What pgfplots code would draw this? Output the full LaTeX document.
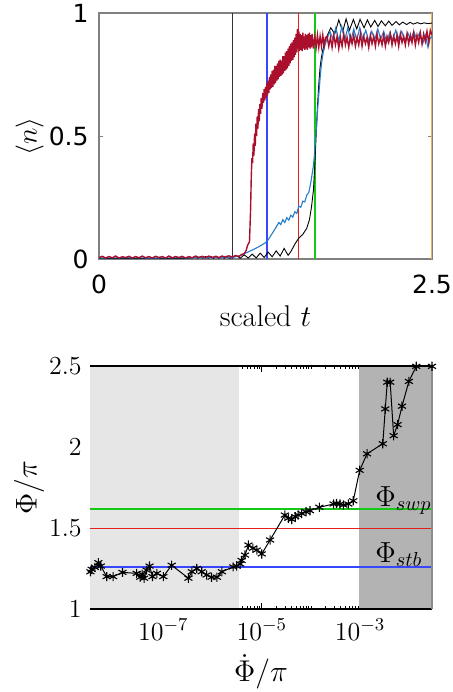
\RequirePackage{fix-cm}
\documentclass[border=0pt]{standalone}
\usepackage{fontspec}
\newfontfamily\dejavu{DejaVu Sans}
\usepackage{pgfplots}
\pgfplotsset{compat=1.18}
\definecolor{lgray}{RGB}{230,230,230}
\definecolor{dgray}{RGB}{179,179,179}
\definecolor{mred}{RGB}{170,15,45}
\definecolor{mblue}{RGB}{35,125,200}
\definecolor{lineblue}{RGB}{55,70,255}
\definecolor{vred}{RGB}{230,30,30}
\definecolor{vgreen}{RGB}{20,200,20}
\definecolor{vorange}{RGB}{240,175,80}
\begin{document}
\begin{tikzpicture}
\useasboundingbox (0,0) rectangle (226pt,346pt);
% ---------------- top panel ----------------
\begin{axis}[
  at={(49.5pt,216.5pt)}, anchor=south west, scale only axis,
  width=166.5pt, height=123pt,
  xmin=0, xmax=2.5, ymin=0, ymax=1,
  xtick={0,2.5}, xticklabels={0,2.5},
  ytick={0,0.5,1}, yticklabels={0,0.5,1},
  tick align=inside, major tick length=2pt,
  axis line style={black!50, line width=0.7pt},
  tick style={black!50},
  xticklabel style={font=\dejavu\fontsize{12.5}{14}\selectfont, anchor=base, yshift=-17pt, inner sep=0pt},
  yticklabel style={font=\dejavu\fontsize{12.5}{14}\selectfont, anchor=east, xshift=-5pt, inner sep=0pt},
  xlabel={scaled $t$},
  xlabel style={font=\fontsize{15}{18}\selectfont, at={(axis description cs:0.5,-0.276)}, anchor=base, inner sep=0pt},
  ylabel={$\langle n\rangle$},
  ylabel style={font=\fontsize{14}{17}\selectfont, at={(axis description cs:-0.187,0.497)}, anchor=base, inner sep=0pt},
]
\addplot[black!80, line width=0.55pt] coordinates {(1,0) (1,1)};
\addplot[lineblue, line width=0.9pt] coordinates {(1.264,0) (1.264,1)};
\addplot[vred, line width=0.6pt] coordinates {(1.50,0) (1.50,1)};
\addplot[vgreen, line width=0.8pt] coordinates {(1.62,0) (1.62,1)};
\addplot[vorange, line width=0.9pt] coordinates {(2.5,0) (2.5,1)};
% black curve
\addplot[black, line width=0.45pt] coordinates {
(0,0.002)(0.6,0.002)(0.7,0.004)(0.72,0.008)(0.74,0.003)(0.76,0.009)(0.78,0.003)(0.80,0.010)(0.82,0.003)(0.84,0.010)(0.86,0.003)(0.88,0.011)(0.90,0.003)(0.92,0.011)(0.94,0.003)(0.96,0.012)(0.98,0.003)(1.0,0.006)
(1.03,0.014)(1.06,0.003)(1.09,0.017)(1.12,0.004)(1.15,0.020)(1.18,0.004)(1.21,0.024)(1.24,0.006)(1.27,0.028)(1.30,0.009)(1.33,0.033)(1.36,0.012)(1.39,0.043)(1.42,0.015)(1.44,0.030)(1.47,0.060)(1.50,0.085)(1.53,0.100)(1.56,0.125)(1.58,0.160)(1.595,0.21)(1.61,0.28)(1.62,0.38)(1.63,0.50)(1.64,0.62)(1.65,0.71)(1.66,0.78)(1.67,0.82)(1.68,0.85)(1.69,0.87)(1.70,0.89)(1.715,0.91)
(1.74,0.94)(1.77,0.915)(1.80,0.972)(1.83,0.925)(1.855,0.976)(1.88,0.930)(1.91,0.974)(1.935,0.935)(1.96,0.974)(1.99,0.940)(2.015,0.972)(2.04,0.943)(2.07,0.970)(2.095,0.945)(2.12,0.968)(2.15,0.948)(2.175,0.967)(2.20,0.950)(2.23,0.965)(2.255,0.952)(2.28,0.963)(2.31,0.953)(2.335,0.962)(2.36,0.955)(2.39,0.961)(2.415,0.956)(2.44,0.960)(2.47,0.957)(2.5,0.959)};
% blue curve
\addplot[mblue, line width=0.55pt] coordinates {
(0,0.004)(0.2,0.005)(0.4,0.004)(0.6,0.005)(0.8,0.005)(0.95,0.006)(1.0,0.006)(1.05,0.012)(1.10,0.024)(1.15,0.036)(1.20,0.050)(1.25,0.066)(1.27,0.078)(1.29,0.095)(1.31,0.112)(1.33,0.130)(1.35,0.148)(1.365,0.140)(1.38,0.160)(1.395,0.148)(1.41,0.168)(1.425,0.158)(1.44,0.178)(1.455,0.170)(1.47,0.192)(1.485,0.185)(1.50,0.215)(1.515,0.210)(1.53,0.235)(1.545,0.232)(1.56,0.260)(1.575,0.270)(1.59,0.310)(1.60,0.345)(1.61,0.380)(1.617,0.420)(1.625,0.480)(1.634,0.545)(1.643,0.620)(1.652,0.680)(1.662,0.750)(1.672,0.800)(1.685,0.845)(1.697,0.870)(1.715,0.900)(1.734,0.925)
(1.755,0.895)(1.778,0.940)(1.80,0.885)(1.823,0.945)(1.845,0.890)(1.868,0.940)(1.89,0.885)(1.913,0.935)(1.935,0.890)(1.958,0.940)(1.98,0.895)(2.003,0.930)(2.025,0.885)(2.048,0.925)(2.07,0.890)(2.093,0.935)(2.115,0.895)(2.138,0.925)(2.16,0.880)(2.183,0.920)(2.205,0.890)(2.228,0.930)(2.25,0.895)(2.273,0.925)(2.295,0.885)(2.318,0.920)(2.34,0.890)(2.363,0.925)(2.385,0.895)(2.408,0.920)(2.43,0.875)(2.45,0.910)(2.47,0.860)(2.485,0.895)(2.5,0.905)};
% red curve
\addplot[mred, line width=0.7pt] coordinates {
(0,0.006)(0.025,0.011)(0.05,0.004)(0.075,0.010)(0.1,0.005)(0.125,0.012)(0.15,0.004)(0.175,0.009)(0.2,0.006)(0.225,0.011)(0.25,0.004)(0.275,0.010)(0.3,0.005)(0.325,0.012)(0.35,0.005)(0.375,0.010)(0.4,0.004)(0.425,0.011)(0.45,0.006)(0.475,0.010)(0.5,0.004)(0.525,0.012)(0.55,0.005)(0.575,0.010)(0.6,0.006)(0.625,0.011)(0.65,0.004)(0.675,0.010)(0.7,0.005)(0.725,0.012)(0.75,0.006)(0.775,0.011)(0.8,0.005)(0.825,0.012)(0.85,0.006)(0.875,0.011)(0.9,0.006)(0.925,0.012)(0.95,0.007)(0.975,0.013)(1.0,0.008)
(1.025,0.014)(1.05,0.010)(1.07,0.018)(1.09,0.022)(1.105,0.035)(1.115,0.055)(1.13,0.07)(1.138,0.20)(1.143,0.33)(1.148,0.41)(1.153,0.39)(1.158,0.47)(1.163,0.42)(1.168,0.51)(1.173,0.46)(1.178,0.55)(1.183,0.50)(1.188,0.58)(1.193,0.53)(1.198,0.61)(1.203,0.56)(1.208,0.63)(1.213,0.59)(1.218,0.655)(1.223,0.61)(1.23,0.675)(1.235,0.635)(1.24,0.69)(1.245,0.645)(1.25,0.70)(1.255,0.655)(1.26,0.715)(1.265,0.665)(1.27,0.725)(1.275,0.675)(1.28,0.74)(1.285,0.69)(1.29,0.75)(1.295,0.695)(1.30,0.765)(1.305,0.70)(1.31,0.77)(1.315,0.71)(1.32,0.785)(1.325,0.715)(1.33,0.785)(1.335,0.725)(1.34,0.795)(1.345,0.73)(1.35,0.805)(1.355,0.74)(1.36,0.81)(1.365,0.745)(1.37,0.805)(1.375,0.75)(1.38,0.825)(1.385,0.755)(1.39,0.825)(1.395,0.765)(1.40,0.84)(1.405,0.77)(1.41,0.845)(1.415,0.775)(1.42,0.855)(1.425,0.785)(1.43,0.865)(1.435,0.795)(1.44,0.875)(1.445,0.805)(1.45,0.88)(1.455,0.81)(1.46,0.89)(1.465,0.82)(1.47,0.90)(1.475,0.83)(1.48,0.915)(1.485,0.84)(1.49,0.935)(1.495,0.855)(1.50,0.925)(1.505,0.845)(1.51,0.915)(1.515,0.85)(1.52,0.91)(1.525,0.845)(1.53,0.92)(1.535,0.855)(1.54,0.905)(1.545,0.85)(1.55,0.915)(1.555,0.855)(1.56,0.91)(1.565,0.85)(1.57,0.915)(1.575,0.86)(1.58,0.92)(1.585,0.855)(1.59,0.91)(1.595,0.86)(1.60,0.915)(1.61,0.855)(1.62,0.905)(1.63,0.86)(1.64,0.91)(1.65,0.86)(1.66,0.905)(1.67,0.865)(1.68,0.91)(1.69,0.865)(1.70,0.90)
(1.7125,0.905)(1.725,0.865)(1.7375,0.90)(1.75,0.86)(1.7625,0.91)(1.775,0.87)(1.7875,0.905)(1.80,0.855)(1.8125,0.90)(1.825,0.865)(1.8375,0.915)(1.85,0.87)(1.8625,0.90)(1.875,0.86)(1.8875,0.905)(1.90,0.875)(1.9125,0.91)(1.925,0.865)(1.9375,0.90)(1.95,0.87)(1.9625,0.915)(1.975,0.865)(1.9875,0.905)(2.00,0.875)(2.0125,0.90)(2.025,0.86)(2.0375,0.91)(2.05,0.875)(2.0625,0.905)(2.075,0.865)(2.0875,0.915)(2.10,0.875)(2.1125,0.90)(2.125,0.87)(2.1375,0.91)(2.15,0.865)(2.1625,0.905)(2.175,0.88)(2.1875,0.915)(2.20,0.87)(2.2125,0.905)(2.225,0.875)(2.2375,0.91)(2.25,0.865)(2.2625,0.915)(2.275,0.88)(2.2875,0.905)(2.30,0.87)(2.3125,0.915)(2.325,0.875)(2.3375,0.91)(2.35,0.88)(2.3625,0.92)(2.375,0.87)(2.3875,0.91)(2.40,0.88)(2.4125,0.92)(2.425,0.875)(2.4375,0.915)(2.45,0.885)(2.4625,0.925)(2.475,0.88)(2.4875,0.93)(2.50,0.91)};
\end{axis}
% ---------------- bottom panel ----------------
\begin{axis}[
  at={(45pt,41.5pt)}, anchor=south west, scale only axis,
  width=171pt, height=121.5pt,
  xmode=log, xmin=3.24e-9, xmax=2.88e-2, ymin=1, ymax=2.5,
  xtick={1e-7,1e-5,1e-3},
  minor xtick={4e-6,5e-6,6e-6,7e-6,8e-6,9e-6,2e-5,3e-5,4e-5,5e-5,6e-5,7e-5,8e-5,9e-5,1e-4,2e-4,3e-4,4e-4,5e-4,6e-4,7e-4,8e-4,9e-4},
  ytick={1,1.5,2,2.5},
  tick align=inside, major tick length=3pt, minor tick length=1.6pt,
  axis line style={draw=none}, tick style={black, line width=0.4pt},
  clip=false,
  xticklabel style={font=\fontsize{13}{15}\selectfont, anchor=base, yshift=-15.5pt, inner sep=0pt},
  yticklabel style={font=\fontsize{13}{15}\selectfont, anchor=east, xshift=-4pt, inner sep=0pt},
  xlabel={$\dot{\Phi}/\pi$},
  xlabel style={font=\fontsize{15}{18}\selectfont, at={(axis description cs:0.5,-0.30)}, anchor=base, inner sep=0pt},
  ylabel={$\Phi/\pi$},
  ylabel style={font=\fontsize{15}{18}\selectfont, at={(axis description cs:-0.156,0.5)}, anchor=base, inner sep=0pt},
]
\addplot[draw=none, fill=lgray] coordinates {(3.24e-9,1) (3.39e-6,1) (3.39e-6,2.5) (3.24e-9,2.5)} -- cycle;
\addplot[draw=none, fill=dgray] coordinates {(9.6e-4,1) (2.88e-2,1) (2.88e-2,2.5) (9.6e-4,2.5)} -- cycle;
\addplot[vgreen, line width=0.65pt] coordinates {(3.24e-9,1.617) (2.88e-2,1.617)};
\addplot[vred, line width=0.6pt] coordinates {(3.24e-9,1.497) (2.88e-2,1.497)};
\addplot[lineblue, line width=0.75pt] coordinates {(3.24e-9,1.258) (2.88e-2,1.258)};
\addplot[black, line width=0.5pt, mark=asterisk, mark size=2.3pt, mark options={line width=0.55pt}] coordinates {
(3.31e-9,1.23)(3.51e-9,1.245)(4.07e-9,1.257)(4.79e-9,1.286)(5.37e-9,1.265)(7.08e-9,1.20)(9.55e-9,1.20)(1.48e-8,1.226)(2.88e-8,1.22)(3.39e-8,1.196)(3.72e-8,1.214)(4.07e-8,1.19)(4.57e-8,1.24)(5.25e-8,1.265)(6.03e-8,1.20)(7.41e-8,1.22)(1.0e-7,1.20)(1.48e-7,1.27)(3.24e-7,1.19)(3.80e-7,1.23)(4.79e-7,1.25)(6.03e-7,1.23)(7.59e-7,1.21)(9.55e-7,1.196)(1.23e-6,1.196)(1.55e-6,1.23)(2.63e-6,1.26)(3.09e-6,1.265)(3.63e-6,1.278)(3.89e-6,1.30)(4.57e-6,1.333)(5.37e-6,1.395)(6.61e-6,1.375)(7.94e-6,1.364)(1.0e-5,1.34)(1.48e-5,1.426)(2.95e-5,1.58)(3.47e-5,1.56)(4.07e-5,1.553)(4.79e-5,1.57)(5.50e-5,1.58)(6.46e-5,1.59)(7.94e-5,1.60)(9.55e-5,1.607)(1.48e-4,1.628)(2.88e-4,1.648)(3.31e-4,1.652)(3.89e-4,1.648)(4.57e-4,1.642)(5.75e-4,1.648)(7.24e-4,1.668)(9.77e-4,1.856)(1.38e-3,1.958)(2.88e-3,2.02)(3.24e-3,2.235)(3.55e-3,2.40)(4.07e-3,2.40)(4.79e-3,2.07)(5.75e-3,2.138)(7.08e-3,2.252)(9.77e-3,2.405)(1.38e-2,2.498)(2.88e-2,2.498)};
\draw[black, line width=0.6pt] (rel axis cs:0,1) -- (rel axis cs:1,1);
\draw[black, line width=0.6pt] (rel axis cs:0,0) -- (rel axis cs:1,0);
\draw[black!45, line width=0.6pt] (rel axis cs:1,0) -- (rel axis cs:1,1);
\node[font=\fontsize{14.5}{17}\selectfont, anchor=base west, inner sep=0pt] at (axis cs:2.0e-3,1.635) {$\Phi_{swp}$};
\node[font=\fontsize{14.5}{17}\selectfont, anchor=base west, inner sep=0pt] at (axis cs:2.0e-3,1.288) {$\Phi_{stb}$};
\end{axis}
\end{tikzpicture}
\end{document}
